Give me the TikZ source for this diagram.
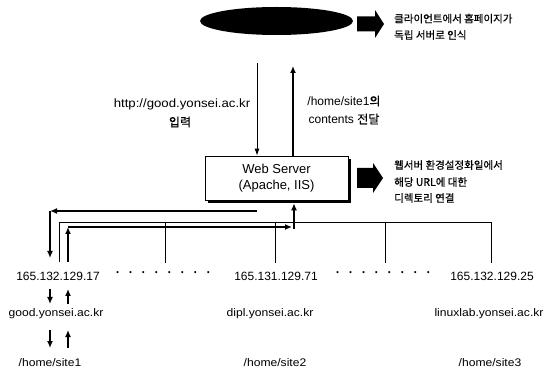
\documentclass[tikz,border=0pt]{standalone}
\usepackage{fontspec}
\setmainfont{Liberation Sans}
\newfontfamily\kr[FakeBold=0.5]{Noto Sans CJK KR}
\newfontfamily\widefont[FakeStretch=1.1]{Liberation Sans}
\usetikzlibrary{arrows.meta,shapes.geometric,shadows}
\newcommand\mydotrow{·\hspace{7pt}·\hspace{7pt}·\hspace{7pt}·\hspace{7pt}·\hspace{7pt}·\hspace{7pt}·\hspace{7pt}·}
\begin{document}
\begin{tikzpicture}[x=1pt,y=-1pt,
  flow/.style={line width=1.6pt,-{Latex[length=7pt,width=6pt]}},
  thinflow/.style={line width=1pt,-{Latex[length=7pt,width=5pt]}},
  wire/.style={line width=0.8pt},
  txt/.style={inner sep=0pt,font=\fontsize{12}{14}\selectfont},
  dotstyle/.style={inner sep=0pt,font=\fontsize{18}{18}\selectfont},
  ktxt/.style={inner sep=0pt,anchor=west,font=\kr\fontsize{10.5}{12}\selectfont},
  host/.style={inner sep=0pt,font=\widefont\fontsize{11}{13}\selectfont},
  blockarrow/.style={fill=black}]
\useasboundingbox (0,0) rectangle (554,379);

% client ellipse and note
\node[ellipse, fill=black, minimum width=153pt, minimum height=28pt, inner sep=0pt] (client) at (276.5,21) {};
\fill[blockarrow] (357,16.5) -- (375,16.5) -- (375,10) -- (384,24) -- (375,38) -- (375,31.5) -- (357,31.5) -- cycle;
\node[ktxt] (note1a) at (394,18.5) {클라이언트에서 홈페이지가};
\node[ktxt] (note1b) at (394,35) {독립 서버로 인식};

% web server
\node[draw, line width=0.6pt, fill=white, minimum width=143pt, minimum height=44pt, inner sep=0pt,
      align=center, font=\fontsize{13}{16}\selectfont,
      drop shadow={shadow xshift=3pt,shadow yshift=-3pt,fill=black,opacity=1}]
      (server) at (276.5,178) {Web Server\\(Apache, IIS)};
\fill[blockarrow] (357,168) -- (373,168) -- (373,163) -- (383,178) -- (373,193) -- (373,188) -- (357,188) -- cycle;
\node[ktxt] (note2a) at (394,165) {웹서버 환경설정화일에서};
\node[ktxt] (note2b) at (394,182) {해당 URL에 대한};
\node[ktxt] (note2c) at (394,198) {디렉토리 연결};

% request / response from client
\coordinate (inTop) at (257,63);
\coordinate (outTop) at (293,66);
\draw[thinflow] (inTop) -- (inTop |- server.north);
\draw[flow] (outTop |- server.north) -- (outTop);
\node[txt] (urlA) at (182,104) {\widefont http://good.yonsei.ac.kr};
\node[txt] (urlB) at (180,122) {\kr 입력};
\node[txt] (sendA) at (344,101) {/home/site1{\kr 의}};
\node[txt] (sendB) at (344,119) {contents {\kr 전달}};

% request path to host
\coordinate (reqStart) at (257,211);
\coordinate (reqCorner) at (50,211);
\coordinate (reqEnd) at (50,258);
\draw[flow] (reqStart) -- (reqCorner);
\draw[flow] (reqCorner) -- (reqEnd);

% bus
\coordinate (tap1) at (59,262);
\coordinate (busL) at (59,222);
\coordinate (busR) at (491,222);
\coordinate (tap5) at (491,263);
\draw[wire] (tap1) -- (busL) -- (busR) -- (tap5);
\coordinate (tap2) at (165,263);
\coordinate (tap3) at (275,263);
\coordinate (tap4) at (385,263);
\draw[wire] (tap2 |- busL) -- (tap2);
\draw[wire] (tap3 |- busL) -- (tap3);
\draw[wire] (tap4 |- busL) -- (tap4);

% response path
\coordinate (resStart) at (68,262);
\coordinate (resCorner) at (68,227);
\coordinate (resTurn) at (292,227);
\coordinate (resUp) at (294,229);
\draw[flow] (resStart) -- (resCorner);
\draw[flow] (resCorner) -- (resTurn);
\draw[flow] (resUp) -- ([yshift=-3pt]resUp |- server.south);

% hosts
\node[txt] (ip1) at (58,276) {165.132.129.17};
\node[dotstyle] (dots1) at (163,275) {\mydotrow};
\node[txt] (ip2) at (276,276) {165.131.129.71};
\node[dotstyle] (dots2) at (383,275) {\mydotrow};
\node[txt] (ip3) at (492,276) {165.132.129.25};

\node[host] (host1) at (56,314) {good.yonsei.ac.kr};
\node[host] (host2) at (270,314) {dipl.yonsei.ac.kr};
\node[host] (host3) at (489,314) {linuxlab.yonsei.ac.kr};

\node[host] (path1) at (50,363) {/home/site1};
\node[host] (path2) at (275,363) {/home/site2};
\node[host] (path3) at (490,363) {/home/site3};

% small arrows
\coordinate (d1a) at (50,289); \coordinate (d1b) at (50,304);
\coordinate (u1a) at (68,304); \coordinate (u1b) at (68,289);
\coordinate (d2a) at (50,330); \coordinate (d2b) at (50,348);
\coordinate (u2a) at (68,348); \coordinate (u2b) at (68,330);
\draw[flow] (d1a) -- (d1b);
\draw[flow] (u1a) -- (u1b);
\draw[flow] (d2a) -- (d2b);
\draw[flow] (u2a) -- (u2b);
\end{tikzpicture}
\end{document}
